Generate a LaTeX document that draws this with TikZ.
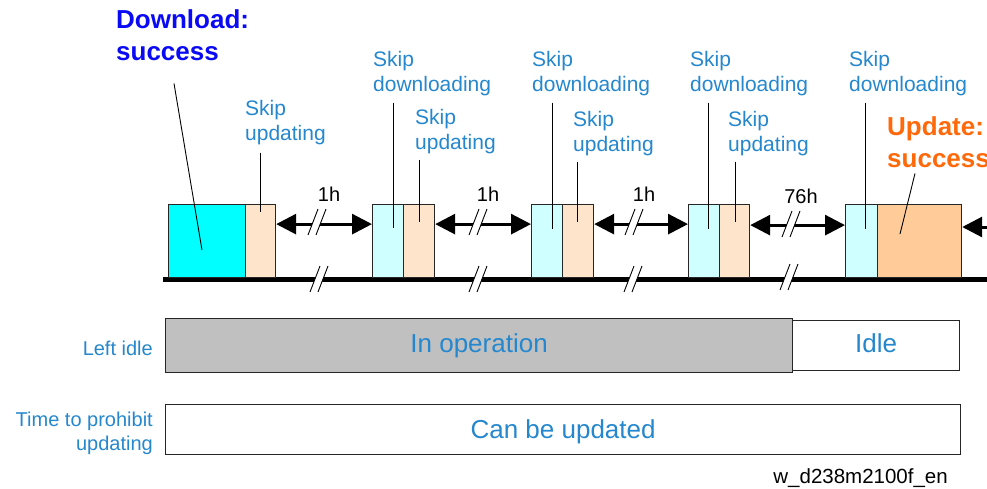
\documentclass[tikz,border=0pt]{standalone}
\usepackage{fontspec}
\setmainfont{Liberation Sans}
\usetikzlibrary{arrows.meta}
\definecolor{txtblue}{RGB}{37,135,205}
\definecolor{dlblue}{RGB}{10,10,245}
\definecolor{uporange}{RGB}{255,105,10}
\definecolor{boxcyan}{RGB}{0,255,255}
\definecolor{lcyan}{RGB}{208,255,255}
\definecolor{peach}{RGB}{255,228,204}
\definecolor{orangebox}{RGB}{255,204,153}
\definecolor{grayop}{RGB}{192,192,192}
\tikzset{
  slot/.style={draw=black!85, line width=1.2pt, inner sep=0pt, anchor=north west, minimum height=73pt},
  lbl/.style={text=txtblue, font=\fontsize{21}{25}\selectfont, align=left, inner sep=0pt, anchor=base west},
  biglbl/.style={font=\bfseries\fontsize{26}{32}\selectfont, align=left, inner sep=0pt, anchor=base west},
  lead/.style={draw=black, line width=0.9pt},
  gap/.style={line width=3pt, {Triangle[length=20pt,width=20pt]}-{Triangle[length=20pt,width=20pt]}},
  hlbl/.style={font=\fontsize{20}{22}\selectfont, inner sep=0pt, anchor=base},
  band/.style={draw=black!85, line width=1.2pt, anchor=north west, inner sep=0pt, text=txtblue, font=\fontsize{26}{30}\selectfont},
  sidelbl/.style={text=txtblue, font=\fontsize{20}{24}\selectfont, align=right, inner sep=0pt, anchor=base east},
  brk/.pic={
    \fill[white] (-9,13) -- (1,-13) -- (9,-13) -- (-1,13) -- cycle;
    \draw[line width=0.9pt] (-9,13) -- (1,-13);
    \draw[line width=0.9pt] (-1,13) -- (9,-13);
  }
}
\begin{document}
\begin{tikzpicture}[x=1pt,y=-1pt]
\useasboundingbox (0,0) rectangle (987,488);

% baseline
\coordinate (bl0) at (163,279.5);
\coordinate (bl1) at (990,279.5);
\draw[line width=5pt] (bl0) -- (bl1);

% boxes
\node[slot, fill=boxcyan, minimum width=77pt] (d1) at (168,204) {};
\node[slot, fill=peach, minimum width=30pt] (u1) at (245,204) {};
\node[slot, fill=lcyan, minimum width=31pt] (d2) at (372,204) {};
\node[slot, fill=peach, minimum width=31pt] (u2) at (403,204) {};
\node[slot, fill=lcyan, minimum width=31pt] (d3) at (531,204) {};
\node[slot, fill=peach, minimum width=31pt] (u3) at (562,204) {};
\node[slot, fill=lcyan, minimum width=31pt] (d4) at (688,204) {};
\node[slot, fill=peach, minimum width=30pt] (u4) at (719,204) {};
\node[slot, fill=lcyan, minimum width=32pt] (d5) at (845,204) {};
\node[slot, fill=orangebox, minimum width=84pt] (up5) at (877,204) {};

% gap arrows
\draw[gap] ([yshift=17pt]u1.east) -- ([yshift=17pt]d2.west);
\draw[gap] ([yshift=17pt]u2.east) -- ([yshift=17pt]d3.west);
\draw[gap] ([yshift=17pt]u3.east) -- ([yshift=17pt]d4.west);
\draw[gap] ([yshift=16pt]u4.east) -- ([yshift=16pt]d5.west);
\coordinate (rarr) at (990,227);
\draw[line width=3pt, -{Triangle[length=20pt,width=20pt]}] (rarr) -- (up5.east |- rarr);

% break marks
\pic at (317,222) {brk};
\pic at (478,222) {brk};
\pic at (634,222) {brk};
\pic at (791,224) {brk};
\pic at (319,279) {brk};
\pic at (478,279) {brk};
\pic at (633,279) {brk};
\pic at (789,277) {brk};

% interval labels
\node[hlbl] (h1) at (329,201) {1h};
\node[hlbl] (h2) at (488,201) {1h};
\node[hlbl] (h3) at (644,201) {1h};
\node[hlbl] (h4) at (801,203) {76h};

% top labels (anchor = baseline of last line)
\node[biglbl, text=dlblue] (dl) at (116,60) {Download:\\success};
\node[biglbl, text=uporange] (up) at (887,167) {Update:\\success};
\node[lbl] (su1) at (245,140) {Skip\\updating};
\node[lbl] (sd2) at (373,91) {Skip\\downloading};
\node[lbl] (su2) at (415,149) {Skip\\updating};
\node[lbl] (sd3) at (532,91) {Skip\\downloading};
\node[lbl] (su3) at (573,151) {Skip\\updating};
\node[lbl] (sd4) at (690,91) {Skip\\downloading};
\node[lbl] (su4) at (728,151) {Skip\\updating};
\node[lbl] (sd5) at (849,91) {Skip\\downloading};

% leader lines
\coordinate (pd1) at (202,250);
\coordinate (pu1) at (260,212);
\coordinate (pd2) at (393,228);
\coordinate (pu2) at (419,222);
\coordinate (pd3) at (552,229);
\coordinate (pu3) at (577,222);
\coordinate (pd4) at (708,229);
\coordinate (pu4) at (735,222);
\coordinate (pd5) at (865,229);
\coordinate (pup) at (900,234);
\draw[lead] ([yshift=-23pt]dl.south -| 174,0) -- (pd1);
\draw[lead] ([yshift=-6pt]up.south -| 915,0) -- (pup);
\draw[lead] ([yshift=-8pt]su1.south -| pu1) -- (pu1);
\draw[lead] ([yshift=-7pt]sd2.south -| pd2) -- (pd2);
\draw[lead] ([yshift=-6pt]su2.south -| pu2) -- (pu2);
\draw[lead] ([yshift=-7pt]sd3.south -| pd3) -- (pd3);
\draw[lead] ([yshift=-6pt]su3.south -| pu3) -- (pu3);
\draw[lead] ([yshift=-7pt]sd4.south -| pd4) -- (pd4);
\draw[lead] ([yshift=-6pt]su4.south -| pu4) -- (pu4);
\draw[lead] ([yshift=-7pt]sd5.south -| pd5) -- (pd5);

% bottom bands
\node[band, fill=grayop, minimum width=627pt, minimum height=54pt] (op) at (165,318) {};
\node[anchor=base, inner sep=0pt, text=txtblue, font=\fontsize{26}{30}\selectfont] (optxt) at ([yshift=-7pt]op.center) {In operation};
\node[band, fill=white, minimum width=167pt, minimum height=50pt] (idle) at (792,320) {};
\node[anchor=base, inner sep=0pt, text=txtblue, font=\fontsize{26}{30}\selectfont] (idletxt) at ([yshift=-7pt]idle.center) {Idle};
\node[band, fill=white, minimum width=795pt, minimum height=50pt] (can) at (165,404) {};
\node[anchor=base, inner sep=0pt, text=txtblue, font=\fontsize{26}{30}\selectfont] (cantxt) at ([yshift=-9pt]can.center) {Can be updated};

\node[sidelbl] (leftidle) at (153,355) {Left idle};
\node[sidelbl] (prohibit) at (153,450) {Time to prohibit\\updating};

\node[anchor=base east, inner sep=0pt, font=\fontsize{20.5}{24}\selectfont] (code) at (948,483) {w\_d238m2100f\_en};
\end{tikzpicture}
\end{document}
